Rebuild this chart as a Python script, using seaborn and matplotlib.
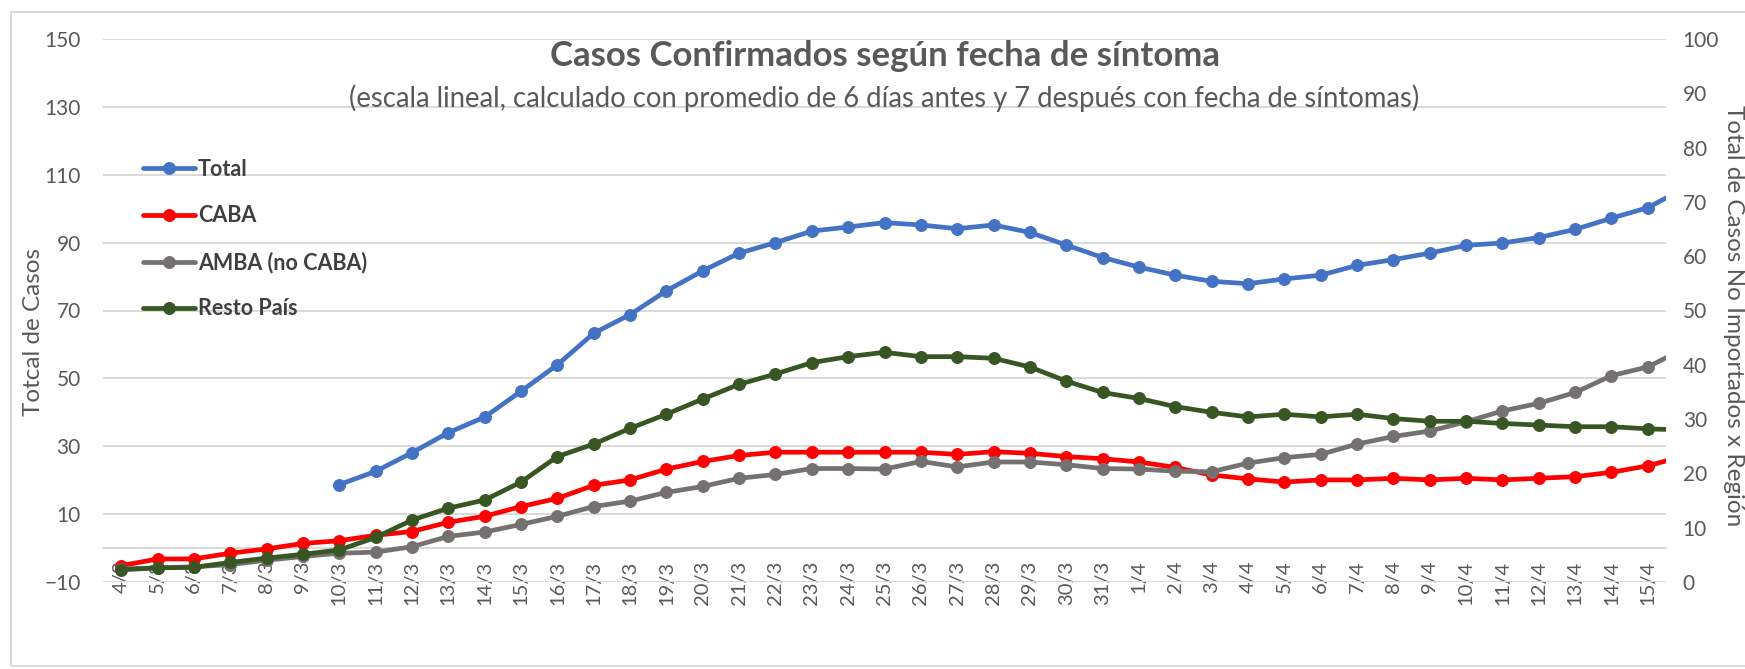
import numpy as np
import pandas as pd
import matplotlib
matplotlib.use("Agg")
import matplotlib.pyplot as plt
from matplotlib.patches import Rectangle
import seaborn as sns

# ---------------- data ----------------
dates = [f"{d}/3" for d in range(4, 32)] + [f"{d}/4" for d in range(1, 17)]

total = [np.nan] * 6 + [
    18.7, 22.6, 28.1, 34.0, 38.6, 46.2, 54.0, 63.3, 68.8, 75.8, 81.7, 86.9,
    90.0, 93.4, 94.6, 95.9, 95.2, 94.1, 95.2, 93.0, 89.3, 85.6,
    82.8, 80.4, 78.6, 77.9, 79.3, 80.4, 83.3, 85.0, 86.9, 89.2, 89.9, 91.5,
    93.9, 97.2, 100.3, 106.0]

caba = [3.0, 4.25, 4.25, 5.3, 6.1, 7.1, 7.6, 8.6, 9.3, 11.0, 12.1, 13.9, 15.4,
        17.8, 18.8, 20.8, 22.2, 23.3, 23.9, 23.9, 23.9, 23.9, 23.9, 23.5, 24.0,
        23.7, 23.1, 22.7,
        22.1, 21.1, 19.7, 19.0, 18.4, 18.8, 18.8, 19.1, 18.8, 19.1, 18.8, 19.1,
        19.4, 20.2, 21.4, 23.2]

amba = [2.4, 2.6, 2.8, 3.2, 4.0, 4.7, 5.3, 5.5, 6.5, 8.4, 9.2, 10.6, 12.1,
        13.9, 14.9, 16.5, 17.6, 19.1, 19.8, 20.9, 20.9, 20.8, 22.2, 21.2, 22.1,
        22.1, 21.6, 20.9,
        20.8, 20.4, 20.3, 21.9, 22.9, 23.5, 25.4, 26.8, 27.8, 29.5, 31.5, 32.9,
        34.9, 38.0, 39.6, 43.0]

resto = [2.25, 2.6, 2.7, 3.6, 4.4, 5.1, 5.9, 8.2, 11.4, 13.6, 15.1, 18.4, 23.1,
         25.4, 28.3, 30.9, 33.7, 36.4, 38.3, 40.4, 41.5, 42.3, 41.5, 41.5, 41.2,
         39.6, 37.0, 34.9,
         33.8, 32.3, 31.25, 30.4, 30.9, 30.4, 30.9, 30.1, 29.6, 29.6, 29.2, 28.9,
         28.6, 28.6, 28.2, 28.0]

series_names = ["Total", "CABA", "AMBA (no CABA)", "Resto País"]
series_colors = ["#4472C4", "#FF0000", "#767171", "#375623"]

title = "Casos Confirmados según fecha de síntoma"
subtitle = ("(escala lineal, calculado con promedio de 6 días antes y 7 "
            "después con fecha de síntomas)")
left_label = "Totcal de Casos"
right_label = "Total de Casos No Importados x Región"

# ---------------- style ----------------
sns.set_style("white")
plt.rcParams["font.family"] = ["Lato", "DejaVu Sans"]

TXT = "#595959"
GRID = "#D9D9D9"

W, H = 1745, 669
fig = plt.figure(figsize=(W / 100, H / 100), dpi=100)
L, R, T, B = 103, 1666, 39, 582
ax = fig.add_axes([L / W, 1 - B / H, (R - L) / W, (B - T) / H])
ax2 = ax.twinx()

x = np.arange(len(dates))
df = pd.DataFrame({"x": x, "Total": total, "CABA": caba,
                   "AMBA (no CABA)": amba, "Resto País": resto})

line_kw = dict(linewidth=3.4, marker="o", markersize=8.5, markeredgewidth=0.8)

sns.lineplot(data=df, x="x", y="Total", ax=ax, color=series_colors[0],
             markeredgecolor=series_colors[0], label="Total", legend=False,
             zorder=3, **line_kw)
for name, col in zip(series_names[1:], series_colors[1:]):
    sns.lineplot(data=df, x="x", y=name, ax=ax2, color=col,
                 markeredgecolor=col, label=name, legend=False, **line_kw)

# ---------------- axes ----------------
ax.set_xticks(x)
ax.set_xticklabels(dates)
ax.set_xticks(np.arange(-0.5, 43, 1), minor=True)
ax.set_xlim(-0.5, 42.5)
ax.set_ylim(-10, 150)
ax.set_yticks(np.arange(-10, 151, 20))
ax2.set_ylim(0, 100)
ax2.set_yticks(np.arange(0, 101, 10))

ax.grid(axis="y", color=GRID, linewidth=1.4)
ax.grid(axis="x", visible=False)
ax2.grid(False)
ax.set_axisbelow(True)

for s in ["top", "left", "right"]:
    ax.spines[s].set_visible(False)
for s in ax2.spines.values():
    s.set_visible(False)
ax.spines["bottom"].set_position(("data", 0))
ax.spines["bottom"].set_color(GRID)
ax.spines["bottom"].set_linewidth(1.4)

ax.tick_params(axis="x", which="major", length=0, pad=9, labelsize=14.5,
               labelcolor=TXT, labelrotation=90)
ax.tick_params(axis="x", which="minor", length=8, width=1.4, color=GRID,
               direction="out")
ax.tick_params(axis="y", length=0, pad=16, labelsize=15, labelcolor=TXT)
ax2.tick_params(axis="y", length=0, pad=12, labelsize=15, labelcolor=TXT)

ax.set_xlabel("")
ax.set_ylabel(left_label, fontsize=17.5, color=TXT, va="center")
ax.yaxis.set_label_coords((34 - L) / (R - L), 0.46)
ax2.set_ylabel(right_label, fontsize=17.5, color=TXT, rotation=270,
               va="center")
ax2.yaxis.set_label_coords((1733 - L) / (R - L), 0.49)

# ---------------- titles ----------------
cx = (L + R) / 2 / W
fig.text(cx, 1 - 56 / H, title, ha="center", va="center", fontsize=25,
         fontweight="bold", color=TXT)
fig.text(cx, 1 - 98 / H, subtitle, ha="center", va="center", fontsize=19.8,
         color=TXT)

# ---------------- legend ----------------
h1, l1 = ax.get_legend_handles_labels()
h2, l2 = ax2.get_legend_handles_labels()
leg = ax2.legend(h1 + h2, l1 + l2, loc="upper left",
                 bbox_to_anchor=(143 / W, 1 - 159 / H),
                 bbox_transform=fig.transFigure, frameon=False,
                 borderpad=0, borderaxespad=0, handlelength=2.4,
                 handletextpad=0.15, labelspacing=1.17, fontsize=15.5)
for t in leg.get_texts():
    t.set_color("#404040")
    t.set_fontweight("bold")

# outer chart border
fig.add_artist(Rectangle((11 / W, 1 - 666 / H), 2, (666 - 12) / H,
                         transform=fig.transFigure, fill=False,
                         edgecolor=GRID, linewidth=1.4))

fig.savefig("out.png", dpi=100)
